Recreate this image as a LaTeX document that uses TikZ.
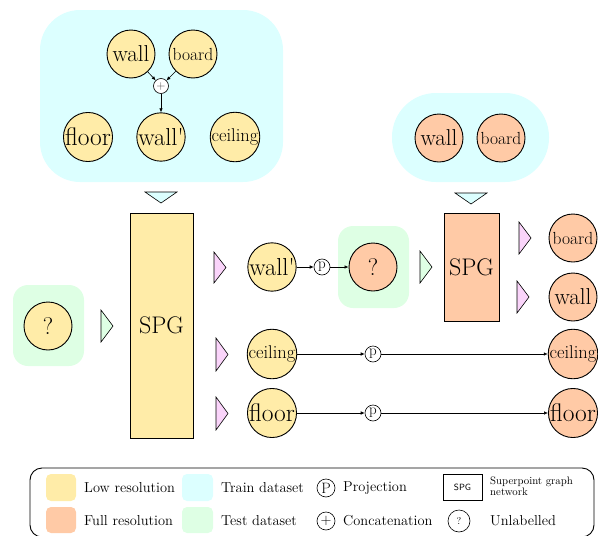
\documentclass[tikz,border=0pt]{standalone}
\usepackage{fontspec}
\usetikzlibrary{arrows.meta}
\definecolor{lowcol}{RGB}{255,236,168}
\definecolor{fullcol}{RGB}{255,202,166}
\definecolor{traincol}{RGB}{220,255,255}
\definecolor{testcol}{RGB}{222,255,228}
\definecolor{pinkcol}{RGB}{250,212,250}
\newcommand{\fs}[1]{\fontsize{#1}{#1}\selectfont}
\tikzset{
  base/.style={circle, draw, minimum size=48pt, inner sep=0pt, line width=0.9pt},
  lowc/.style={base, fill=lowcol},
  fullc/.style={base, fill=fullcol},
  smallc/.style={circle, draw, minimum size=16pt, inner sep=0pt, line width=0.6pt, fill=white},
  spgbox/.style={draw, line width=0.9pt, inner sep=0pt, font=\fs{24}},
  arr/.style={-{Latex[length=4pt,width=3.5pt]}, line width=0.6pt},
  tri/.style={draw, line width=0.6pt, fill=#1},
  legtext/.style={anchor=west, inner sep=0pt, font=\fs{14.4}},
  swatch/.style={rounded corners=5pt, fill=#1},
}
\begin{document}
\begin{tikzpicture}[x=1pt, y=-1pt]
\useasboundingbox (0,0) rectangle (598,536);
% dataset backgrounds
\fill[traincol, rounded corners=40pt] (40,10) rectangle (283,182);
\fill[traincol, rounded corners=44pt] (392,93) rectangle (549,182);
\fill[testcol, rounded corners=15pt] (13,285) rectangle (84,366);
\fill[testcol, rounded corners=15pt] (338,226) rectangle (409,308);

% train set 1
\node[lowc, font=\fs{23}] (w1) at (131,54) {wall};
\node[lowc, font=\fs{17.5}] (b1) at (193,54) {board};
\node[smallc, minimum size=15pt, font=\fs{13}, text=black!70] (plus) at (161,86) {$+$};
\node[lowc, font=\fs{25.5}] (f1) at (88,137) {floor};
\node[lowc, font=\fs{24.5}] (wp1) at (161,137) {wall\textquotesingle};
\node[lowc, font=\fs{18.5}] (c1) at (235,137) {ceiling};
\draw[arr] (w1) -- (plus);
\draw[arr] (b1) -- (plus);
\draw[arr] (plus) -- (wp1);

% train set 2
\node[fullc, font=\fs{23}] (w2) at (439,138) {wall};
\node[fullc, font=\fs{17.5}] (b2) at (501,138) {board};

% down triangles
\draw[tri=traincol] (145,192) -- (177,192) -- (161,203) -- cycle;
\draw[tri=traincol] (455,193) -- (487,193) -- (471,204) -- cycle;

% test 1
\node[lowc, font=\fs{24}] (q1) at (48,326) {?};
\draw[tri=testcol] (101,310) -- (113,326) -- (101,342) -- cycle;

% SPG 1
\node[spgbox, fill=lowcol, minimum width=63pt, minimum height=225pt] (spg1) at (161.5,325.5) {SPG};

% pink triangles
\draw[tri=pinkcol] (214,252) -- (226,267.5) -- (214,283) -- cycle;
\draw[tri=pinkcol] (216,338) -- (228,354.5) -- (216,371) -- cycle;
\draw[tri=pinkcol] (216,397) -- (228,413.5) -- (216,430) -- cycle;

% low-res outputs
\node[lowc, font=\fs{24.5}] (wp2) at (272,267) {wall\textquotesingle};
\node[lowc, font=\fs{18.5}] (c2) at (272,354) {ceiling};
\node[lowc, font=\fs{25.5}] (f2) at (272,413) {floor};

% projections
\node[smallc, font=\fs{15}] (p1) at (322,267) {p};
\node[smallc, font=\fs{15}] (p2) at (373,354) {p};
\node[smallc, font=\fs{15}] (p3) at (373,413) {p};

% test 2
\node[fullc, font=\fs{24}] (q2) at (373,267) {?};
\draw[tri=testcol] (420,251) -- (432,267) -- (420,283) -- cycle;

% SPG 2
\node[spgbox, fill=fullcol, minimum width=55pt, minimum height=108pt] (spg2) at (471.5,267) {SPG};

\draw[tri=pinkcol] (519,222) -- (531,238) -- (519,254) -- cycle;
\draw[tri=pinkcol] (517,281) -- (529,297) -- (517,313) -- cycle;

% full-res outputs
\node[fullc, font=\fs{17.5}] (b3) at (573,238) {board};
\node[fullc, font=\fs{23}] (w3) at (573,297) {wall};
\node[fullc, font=\fs{18.5}] (c3) at (573,354) {ceiling};
\node[fullc, font=\fs{25.5}] (f3) at (573,413) {floor};

% connectors
\draw[arr] (wp2) -- (p1);
\draw[arr] (p1) -- (q2);
\draw[arr] (c2) -- (p2);
\draw[arr] (p2) -- (c3);
\draw[arr] (f2) -- (p3);
\draw[arr] (p3) -- (f3);

% legend
\draw[line width=0.9pt, rounded corners=12pt] (30,468) rectangle (594,537);
\fill[swatch=lowcol] (46,474) rectangle (76,501);
\fill[swatch=fullcol] (46,507) rectangle (76,533);
\node[legtext] (l1) at (84,488) {Low resolution};
\node[legtext] (l2) at (84,521) {Full resolution};
\fill[swatch=traincol] (182,474) rectangle (213,501);
\fill[swatch=testcol] (182,507) rectangle (213,533);
\node[legtext] (l3) at (221,488) {Train dataset};
\node[legtext] (l4) at (221,521) {Test dataset};
\node[smallc, minimum size=18pt, font=\fs{15}] (lp) at (326,488) {P};
\node[smallc, minimum size=18pt, font=\fs{15}] (lc) at (326,521) {$+$};
\node[legtext] (l5) at (343,488) {Projection};
\node[legtext] (l6) at (343,521) {Concatenation};
\node[draw, line width=0.6pt, minimum width=39pt, minimum height=26pt, inner sep=0pt, font=\sffamily\fs{9}] (ls) at (462.5,487.5) {SPG};
\node[smallc, minimum size=22pt, font=\fs{10}] (lq) at (459,521) {?};
\node[anchor=west, inner sep=0pt, align=left, font=\fs{10.8}] (l7) at (490,486) {Superpoint graph\\network};
\node[legtext] (l8) at (490,521) {Unlabelled};
\end{tikzpicture}
\end{document}
